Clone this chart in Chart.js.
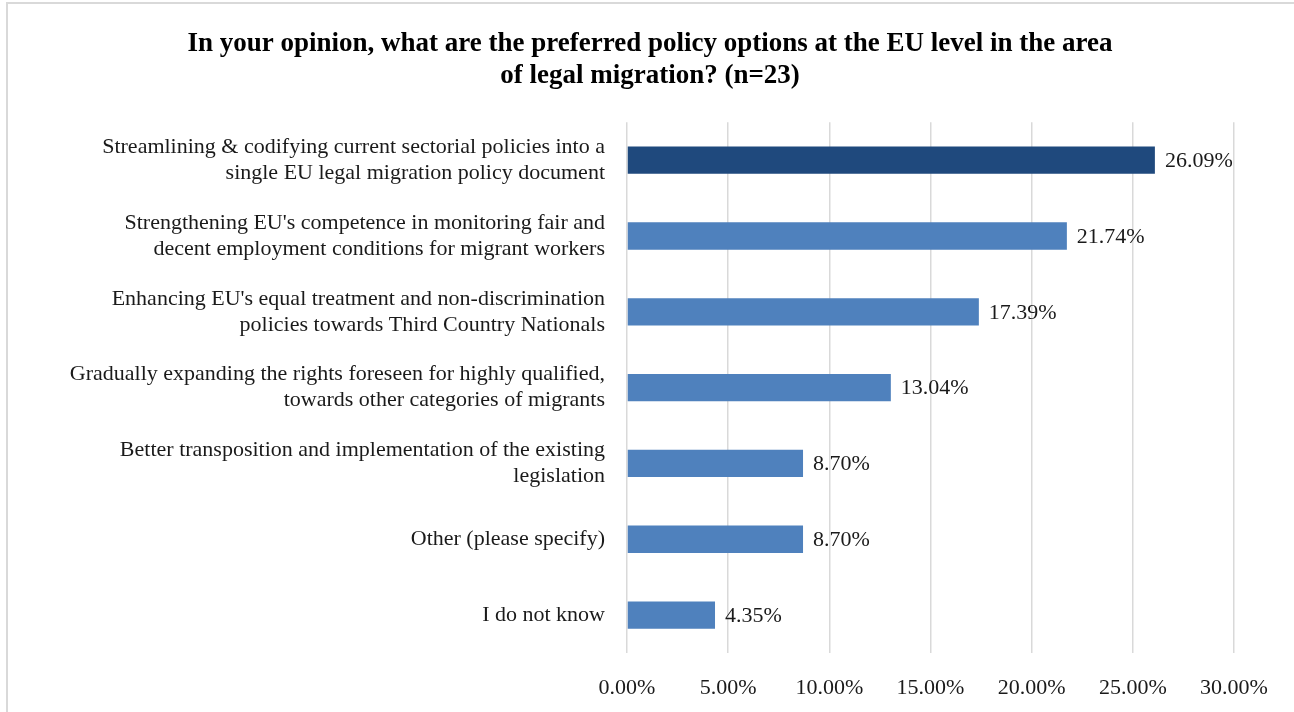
<!DOCTYPE html>
<html>
<head>
<meta charset="utf-8">
<script src="https://cdn.jsdelivr.net/npm/chart.js@4/dist/chart.umd.min.js"></script>
<style>
  html, body { margin: 0; padding: 0; background: #fff; }
  #wrap { width: 1294px; height: 712px; position: relative; }
</style>
</head>
<body>
<div id="wrap"><canvas id="chart" width="1294" height="712"></canvas></div>
<script>
// policy options, top to bottom
const options = [
  ['Streamlining & codifying current sectorial policies into a', 'single EU legal migration policy document'],
  ["Strengthening EU's competence in monitoring fair and", 'decent employment conditions for migrant workers'],
  ["Enhancing EU's equal treatment and non-discrimination", 'policies towards Third Country Nationals'],
  ['Gradually expanding the rights foreseen for highly qualified,', 'towards other categories of migrants'],
  ['Better transposition and implementation of the existing', 'legislation'],
  'Other (please specify)',
  'I do not know'
];
const shares = [26.09, 21.74, 17.39, 13.04, 8.70, 8.70, 4.35];
const barColors = ['#1F497D', '#4F81BD', '#4F81BD', '#4F81BD', '#4F81BD', '#4F81BD', '#4F81BD'];
const titleLines = [
  'In your opinion, what are the preferred policy options at the EU level in the area',
  'of legal migration? (n=23)'
];

const serif = "'Liberation Serif', 'DejaVu Serif', serif";

// outer frame of the chart box
const frame = {
  id: 'frame',
  beforeDraw(chart) {
    const c = chart.ctx;
    c.save();
    c.strokeStyle = '#d9d9d9';
    c.lineWidth = 2;
    c.strokeRect(7, 3, 1400, 800);
    c.restore();
  }
};

// value labels at the end of each bar
const valueLabels = {
  id: 'valueLabels',
  afterDatasetsDraw(chart) {
    const c = chart.ctx;
    const meta = chart.getDatasetMeta(0);
    c.save();
    c.font = '22px ' + serif;
    c.fillStyle = '#1a1a1a';
    c.textAlign = 'left';
    c.textBaseline = 'middle';
    meta.data.forEach((bar, i) => {
      c.fillText(shares[i].toFixed(2) + '%', bar.x + 10, bar.y + 1);
    });
    c.restore();
  }
};

new Chart(document.getElementById('chart'), {
  type: 'bar',
  data: {
    labels: options,
    datasets: [{
      data: shares,
      backgroundColor: barColors,
      borderWidth: 0,
      barPercentage: 0.9,
      categoryPercentage: 0.4
    }]
  },
  options: {
    indexAxis: 'y',
    responsive: false,
    animation: false,
    layout: { padding: { left: 66, right: 60, top: 0, bottom: 0 } },
    plugins: {
      legend: { display: false },
      tooltip: { enabled: false },
      title: {
        display: true,
        text: titleLines,
        color: '#000',
        font: { family: serif, size: 27, weight: 'bold', lineHeight: 1.19 },
        padding: { top: 28, bottom: 30 }
      }
    },
    scales: {
      x: {
        min: 0,
        max: 30,
        ticks: {
          stepSize: 5,
          color: '#1a1a1a',
          font: { family: serif, size: 22 },
          padding: 22,
          callback: v => v.toFixed(2) + '%'
        },
        grid: { color: '#d9d9d9', lineWidth: 1.5, drawTicks: false },
        border: { display: false },
        afterFit(scale) { scale.height = 59; }
      },
      y: {
        ticks: {
          color: '#1a1a1a',
          font: { family: serif, size: 22, lineHeight: 1.18 },
          padding: 14
        },
        grid: { display: false },
        border: { display: false },
        afterFit(scale) { scale.width = 561; }
      }
    }
  },
  plugins: [frame, valueLabels]
});
</script>
</body>
</html>
